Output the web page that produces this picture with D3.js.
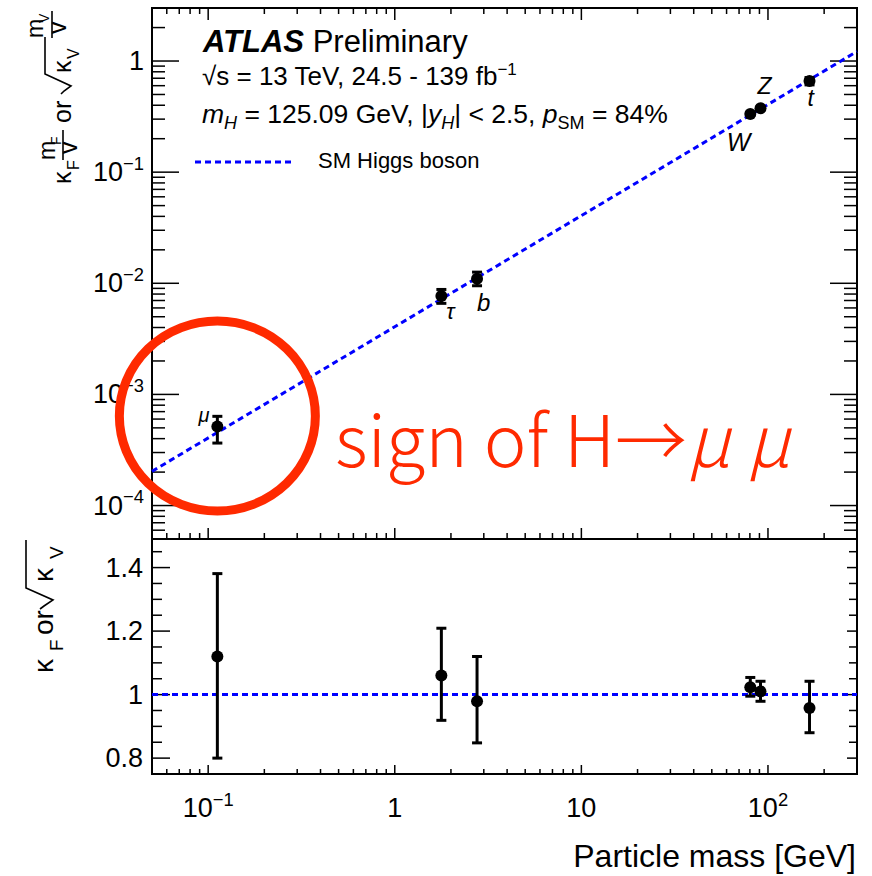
<!DOCTYPE html>
<html>
<head>
<meta charset="utf-8">
<script src="https://cdn.jsdelivr.net/npm/d3@7"></script>
<style>
  body { margin: 0; background: #fff; }
  svg { display: block; }
  text { font-family: "Liberation Sans", Arial, sans-serif; fill: #000; }
</style>
</head>
<body>
<div id="chart"></div>
<script>
// Datos
var particles = ["μ", "τ", "b", "W", "Z", "t"];
var masses    = [0.112, 1.777, 2.76, 80.4, 91.2, 167];
// panel inferior: kappa y sus barras de error
var kappa     = [1.12, 1.06, 0.979, 1.023, 1.010, 0.958];
var kappaHi   = [1.381, 1.209, 1.12, 1.054, 1.042, 1.042];
var kappaLo   = [0.80, 0.919, 0.848, 0.995, 0.979, 0.88];
// panel superior: kappa*m/v
var reduced   = [5.15e-4, 7.69e-3, 0.0110, 0.333, 0.375, 0.66];
var reducedHi = [6.35e-4, 8.8e-3, 0.0126, 0.345, 0.386, 0.71];
var reducedLo = [3.65e-4, 6.6e-3, 0.0095, 0.325, 0.364, 0.61];
// linea del SM (m/v)
var smMass    = [0.05, 300];
var smReduced = [2.03e-4, 1.22];
// etiquetas de ejes
var xTickVals   = [0.1, 1, 10, 100];
var xTickBase   = ["10", "1", "10", "10"];
var xTickExp    = ["−1", "", "", "2"];
var yTopVals    = [1, 0.1, 0.01, 0.001, 0.0001];
var yTopBase    = ["1", "10", "10", "10", "10"];
var yTopExp     = ["", "−1", "−2", "−3", "−4"];
var yBotVals    = [1.4, 1.2, 1, 0.8];
var yBotLabels  = ["1.4", "1.2", "1", "0.8"];

// Lienzo
var width = 872, height = 876;
var left = 152, right = 857, topY = 8, midY = 539, botY = 774;
var blue = "#0000ff", red = "#ff2a00";

var svg = d3.select("#chart").append("svg")
    .attr("width", width).attr("height", height);

// Escalas
var x = d3.scaleLog().domain([0.05, 300]).range([left, right]);
var yTop = d3.scaleLog().domain([5e-5, 3]).range([midY, topY]);
var yBot = d3.scaleLinear().domain([0.75, 1.49]).range([botY, midY]);

// ticks menores de escala log
function logTicks(scale) {
    var dom = scale.domain(), out = [];
    var lo = Math.floor(Math.log10(dom[0])), hi = Math.ceil(Math.log10(dom[1]));
    for (var e = lo; e <= hi; e++) {
        for (var m = 1; m <= 9; m++) {
            var v = m * Math.pow(10, e);
            if (v >= dom[0] * 0.999 && v <= dom[1] * 1.001) out.push({v: v, major: m === 1});
        }
    }
    return out;
}

var ticks = svg.append("g").attr("stroke", "#000").attr("stroke-width", 1.5);
var xt = logTicks(x);
// eje x arriba del panel superior
ticks.selectAll(".xt1").data(xt).enter().append("line")
    .attr("x1", d => x(d.v)).attr("x2", d => x(d.v))
    .attr("y1", topY).attr("y2", d => topY + (d.major ? 12 : 6));
// eje x abajo del panel superior
ticks.selectAll(".xt2").data(xt).enter().append("line")
    .attr("x1", d => x(d.v)).attr("x2", d => x(d.v))
    .attr("y1", midY).attr("y2", d => midY - (d.major ? 11 : 6));
// eje x panel inferior
ticks.selectAll(".xt3").data(xt).enter().append("line")
    .attr("x1", d => x(d.v)).attr("x2", d => x(d.v))
    .attr("y1", botY).attr("y2", d => botY - (d.major ? 9 : 5));

var yt = logTicks(yTop);
ticks.selectAll(".yt1").data(yt).enter().append("line")
    .attr("x1", left).attr("x2", d => left + (d.major ? 27 : 13))
    .attr("y1", d => yTop(d.v)).attr("y2", d => yTop(d.v));
ticks.selectAll(".yt2").data(yt).enter().append("line")
    .attr("x1", right).attr("x2", d => right - (d.major ? 27 : 13))
    .attr("y1", d => yTop(d.v)).attr("y2", d => yTop(d.v));

var ybt = d3.range(0.8, 1.46, 0.05).map(v => ({v: v, major: Math.abs(v * 5 - Math.round(v * 5)) < 1e-6}));
ticks.selectAll(".yb1").data(ybt).enter().append("line")
    .attr("x1", left).attr("x2", d => left + (d.major ? 18 : 10))
    .attr("y1", d => yBot(d.v)).attr("y2", d => yBot(d.v));
ticks.selectAll(".yb2").data(ybt).enter().append("line")
    .attr("x1", right).attr("x2", d => right - (d.major ? 10 : 8))
    .attr("y1", d => yBot(d.v)).attr("y2", d => yBot(d.v));

// Marcos
svg.append("rect").attr("x", left).attr("y", topY)
    .attr("width", right - left).attr("height", midY - topY)
    .attr("fill", "none").attr("stroke", "#000").attr("stroke-width", 2);
svg.append("rect").attr("x", left).attr("y", midY)
    .attr("width", right - left).attr("height", botY - midY)
    .attr("fill", "none").attr("stroke", "#000").attr("stroke-width", 2);

// Etiquetas de ticks con exponente
function powLabel(g, base, exp, fs) {
    var t = g.append("text").attr("font-size", fs);
    t.append("tspan").text(base);
    if (exp) t.append("tspan").attr("font-size", fs * 0.68).attr("dy", -fs * 0.42).text(exp);
    return t;
}
xTickVals.forEach(function(v, i) {
    powLabel(svg, xTickBase[i], xTickExp[i], 27)
        .attr("x", x(v)).attr("y", 817).attr("text-anchor", "middle");
});
yTopVals.forEach(function(v, i) {
    powLabel(svg, yTopBase[i], yTopExp[i], 27)
        .attr("x", 144).attr("y", yTop(v) + 9).attr("text-anchor", "end");
});
svg.selectAll(".ybl").data(yBotVals).enter().append("text")
    .attr("x", 143).attr("y", d => yBot(d) + 9)
    .attr("text-anchor", "end").attr("font-size", 27)
    .text((d, i) => yBotLabels[i]);

svg.append("text").attr("x", 856).attr("y", 867).attr("text-anchor", "end")
    .attr("font-size", 32).text("Particle mass [GeV]");

// Titulos de eje y (rotados)
function rot(txt, px, py, fs, italic) {
    return svg.append("text").attr("x", px).attr("y", py)
        .attr("transform", "rotate(-90," + px + "," + py + ")")
        .attr("font-size", fs).attr("font-style", italic ? "italic" : null).text(txt);
}
function vline(px, y1, y2) {
    svg.append("line").attr("x1", px).attr("x2", px).attr("y1", y1).attr("y2", y2)
        .attr("stroke", "#000").attr("stroke-width", 1.6);
}
rot("κ", 71, 184, 25);
rot("F", 79, 170, 16);
rot("m", 55, 160, 23);
rot("F", 61, 145, 14);
vline(63, 130, 160);
rot("v", 77, 154, 25);
rot("or", 71, 123, 25);
svg.append("path").attr("d", "M61,94 L64,91 L71,86 L45,74 L45,37")
    .attr("fill", "none").attr("stroke", "#000").attr("stroke-width", 1.6);
rot("κ", 71, 73, 25);
rot("V", 79, 59, 16);
rot("m", 43, 38, 23);
rot("V", 49, 23, 14);
vline(52, 11, 38);
rot("v", 66, 34, 25);

rot("κ", 53, 673, 28);
rot("F", 63, 651, 19);
rot("or", 53, 635, 28);
svg.append("path").attr("d", "M40,609 L44,606 L53,600 L26,588 L26,540")
    .attr("fill", "none").attr("stroke", "#000").attr("stroke-width", 1.6);
rot("κ", 53, 582, 28);
rot("V", 63, 559, 19);

// Lineas del SM
var lineTop = d3.line().x(d => x(d[0])).y(d => yTop(d[1]));
svg.append("path").datum(d3.zip(smMass, smReduced))
    .attr("d", lineTop).attr("fill", "none")
    .attr("stroke", blue).attr("stroke-width", 3).attr("stroke-dasharray", "6,4");
svg.append("line").attr("x1", x(smMass[0])).attr("x2", x(smMass[1]))
    .attr("y1", yBot(1)).attr("y2", yBot(1))
    .attr("stroke", blue).attr("stroke-width", 3).attr("stroke-dasharray", "6,4");

// Puntos con barras de error
function drawPoints(yScale, vals, lo, hi) {
    var g = svg.append("g");
    var idx = d3.range(masses.length);
    g.selectAll(".eb").data(idx).enter().append("line")
        .attr("x1", i => x(masses[i])).attr("x2", i => x(masses[i]))
        .attr("y1", i => yScale(lo[i])).attr("y2", i => yScale(hi[i]))
        .attr("stroke", "#000").attr("stroke-width", 3);
    [lo, hi].forEach(function(arr) {
        g.selectAll(null).data(idx).enter().append("line")
            .attr("x1", i => x(masses[i]) - 5).attr("x2", i => x(masses[i]) + 5)
            .attr("y1", i => yScale(arr[i])).attr("y2", i => yScale(arr[i]))
            .attr("stroke", "#000").attr("stroke-width", 3);
    });
    g.selectAll("circle").data(idx).enter().append("circle")
        .attr("cx", i => x(masses[i])).attr("cy", i => yScale(vals[i]))
        .attr("r", 6).attr("fill", "#000");
}
drawPoints(yTop, reduced, reducedLo, reducedHi);
drawPoints(yBot, kappa, kappaLo, kappaHi);

// Nombres de particulas junto a los puntos
var labelDx = [-8, 5, 0, 0, -3, -2];
var labelDy = [-4, 23, 32, 37, -14, 25];
var labelAnchor = ["end", "start", "start", "end", "start", "start"];
var labelSize = [20, 22, 24, 25, 23, 23];
svg.selectAll(".plab").data(particles).enter().append("text")
    .attr("x", (d, i) => x(masses[i]) + labelDx[i])
    .attr("y", (d, i) => yTop(reduced[i]) + labelDy[i])
    .attr("text-anchor", (d, i) => labelAnchor[i])
    .attr("font-size", (d, i) => labelSize[i])
    .attr("font-style", "italic")
    .text(d => d);

// Texto ATLAS
var t1 = svg.append("text").attr("x", 203).attr("y", 52).attr("font-size", 31);
t1.append("tspan").attr("font-weight", "bold").attr("font-style", "italic").text("ATLAS");
t1.append("tspan").text(" Preliminary");

var t2 = svg.append("text").attr("x", 202).attr("y", 85).attr("font-size", 26);
t2.append("tspan").text("√s = 13 TeV, 24.5 - 139 fb");
t2.append("tspan").attr("font-size", 17).attr("dy", -10).text("−1");

var t3 = svg.append("text").attr("x", 202).attr("y", 123).attr("font-size", 26.5);
t3.append("tspan").attr("font-style", "italic").text("m");
t3.append("tspan").attr("font-style", "italic").attr("font-size", 18).attr("dy", 6).text("H");
t3.append("tspan").attr("dy", -6).text(" = 125.09 GeV, |");
t3.append("tspan").attr("font-style", "italic").text("y");
t3.append("tspan").attr("font-style", "italic").attr("font-size", 18).attr("dy", 6).text("H");
t3.append("tspan").attr("dy", -6).text("| < 2.5, ");
t3.append("tspan").attr("font-style", "italic").text("p");
t3.append("tspan").attr("font-size", 18).attr("dy", 6).text("SM");
t3.append("tspan").attr("dy", -6).text(" = 84%");

// Leyenda
svg.append("line").attr("x1", 195).attr("x2", 295).attr("y1", 162).attr("y2", 162)
    .attr("stroke", blue).attr("stroke-width", 3).attr("stroke-dasharray", "6,4");
svg.append("text").attr("x", 318).attr("y", 168).attr("font-size", 22).text("SM Higgs boson");

// Anotacion roja
svg.append("ellipse").attr("cx", x(masses[0])).attr("cy", 416)
    .attr("rx", 98).attr("ry", 95)
    .attr("fill", "none").attr("stroke", red).attr("stroke-width", 9);
var ann = svg.append("text").attr("x", 335).attr("y", 467)
    .attr("font-size", 72).attr("font-weight", 300)
    .style("font-family", "'Noto Sans CJK JP', 'Noto Sans', sans-serif")
    .style("fill", red);
ann.append("tspan").text("sign of H→");
ann.append("tspan").attr("font-style", "italic").text("μ μ");
</script>
</body>
</html>
